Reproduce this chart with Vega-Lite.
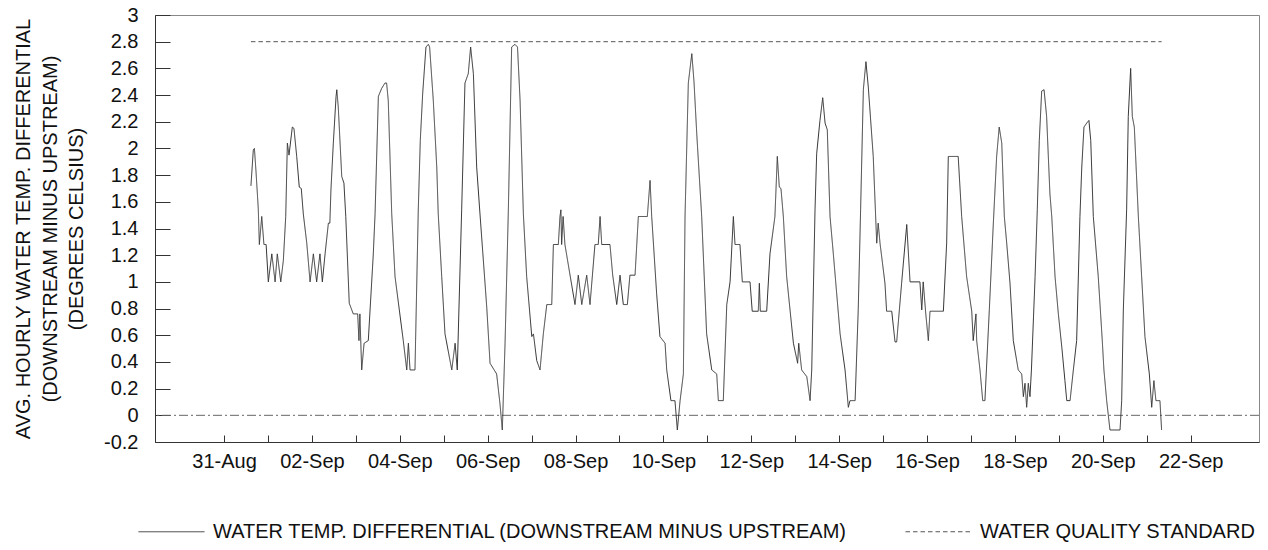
{
  "$schema": "https://vega.github.io/schema/vega-lite/v6.json",
  "width": 1104,
  "height": 427,
  "autosize": {"type": "none"},
  "padding": {"left": 155, "top": 15, "right": 9, "bottom": 108},
  "background": "white",
  "config": {
    "font": "Liberation Sans",
    "view": {"stroke": "#888", "strokeWidth": 1},
    "axis": {"grid": false, "domainColor": "#333", "tickColor": "#333", "labelColor": "#111", "titleColor": "#111", "labelFont": "Liberation Sans", "titleFont": "Liberation Sans", "titleFontWeight": "normal"}
  },
  "datasets": {
    "std": [{"h": 14.7, "v": 2.8}, {"h": 512.1, "v": 2.8}],
    "diff": [
      {"h":14.7,"v":1.72},{"h":16.0,"v":1.99},{"h":16.6,"v":2.0},{"h":17.5,"v":1.82},{"h":18.7,"v":1.55},{"h":19.3,"v":1.28},{"h":20.6,"v":1.49},{"h":21.8,"v":1.28},{"h":23.0,"v":1.28},{"h":24.2,"v":1.0},{"h":26.1,"v":1.21},{"h":27.9,"v":1.0},{"h":29.1,"v":1.21},{"h":31.0,"v":1.0},{"h":32.4,"v":1.16},{"h":33.7,"v":1.49},{"h":34.6,"v":2.04},{"h":35.5,"v":1.95},{"h":37.3,"v":2.16},{"h":38.2,"v":2.15},{"h":39.7,"v":1.94},{"h":41.1,"v":1.71},{"h":42.2,"v":1.7},{"h":43.3,"v":1.51},{"h":45.2,"v":1.29},{"h":47.0,"v":1.0},{"h":48.8,"v":1.21},{"h":50.6,"v":1.0},{"h":52.4,"v":1.21},{"h":53.7,"v":1.0},{"h":55.2,"v":1.21},{"h":57.0,"v":1.44},{"h":57.8,"v":1.44},{"h":58.4,"v":1.69},{"h":59.7,"v":2.04},{"h":61.2,"v":2.39},{"h":61.6,"v":2.44},{"h":62.4,"v":2.31},{"h":64.3,"v":1.79},{"h":65.5,"v":1.74},{"h":66.5,"v":1.49},{"h":68.4,"v":0.84},{"h":70.6,"v":0.76},{"h":73.0,"v":0.76},{"h":73.7,"v":0.56},{"h":74.2,"v":0.76},{"h":75.2,"v":0.34},{"h":76.5,"v":0.54},{"h":78.8,"v":0.56},{"h":81.5,"v":1.2},{"h":82.5,"v":1.51},{"h":84.3,"v":2.39},{"h":86.1,"v":2.45},{"h":87.9,"v":2.49},{"h":88.8,"v":2.49},{"h":89.7,"v":2.36},{"h":91.6,"v":1.51},{"h":93.4,"v":1.04},{"h":97.9,"v":0.56},{"h":99.8,"v":0.34},{"h":100.7,"v":0.54},{"h":101.6,"v":0.34},{"h":104.3,"v":0.34},{"h":106.1,"v":1.54},{"h":107.2,"v":2.06},{"h":108.5,"v":2.41},{"h":110.3,"v":2.76},{"h":111.6,"v":2.78},{"h":112.3,"v":2.76},{"h":114.3,"v":2.36},{"h":116.2,"v":1.86},{"h":117.0,"v":1.51},{"h":118.9,"v":1.04},{"h":120.7,"v":0.61},{"h":124.4,"v":0.34},{"h":126.2,"v":0.54},{"h":127.4,"v":0.34},{"h":129.8,"v":1.54},{"h":131.6,"v":2.49},{"h":133.4,"v":2.56},{"h":134.7,"v":2.76},{"h":136.2,"v":2.56},{"h":138.0,"v":1.86},{"h":139.8,"v":1.51},{"h":143.5,"v":0.81},{"h":145.3,"v":0.39},{"h":148.9,"v":0.31},{"h":150.7,"v":0.09},{"h":152.0,"v":-0.11},{"h":153.5,"v":0.54},{"h":155.3,"v":1.54},{"h":157.1,"v":2.76},{"h":158.9,"v":2.78},{"h":160.3,"v":2.76},{"h":161.7,"v":2.36},{"h":163.5,"v":1.51},{"h":165.3,"v":1.04},{"h":168.1,"v":0.59},{"h":169.0,"v":0.61},{"h":170.8,"v":0.41},{"h":172.6,"v":0.34},{"h":174.4,"v":0.61},{"h":176.3,"v":0.83},{"h":179.0,"v":0.83},{"h":179.9,"v":1.28},{"h":182.6,"v":1.28},{"h":183.5,"v":1.49},{"h":184.0,"v":1.54},{"h":184.4,"v":1.28},{"h":185.2,"v":1.49},{"h":186.2,"v":1.28},{"h":189.0,"v":1.05},{"h":191.7,"v":0.83},{"h":193.5,"v":1.05},{"h":195.4,"v":0.83},{"h":198.1,"v":1.05},{"h":199.9,"v":0.83},{"h":202.6,"v":1.28},{"h":204.4,"v":1.28},{"h":205.4,"v":1.49},{"h":206.3,"v":1.28},{"h":210.8,"v":1.28},{"h":212.3,"v":1.05},{"h":214.5,"v":0.83},{"h":216.3,"v":1.05},{"h":218.1,"v":0.83},{"h":220.3,"v":0.83},{"h":221.7,"v":1.05},{"h":224.5,"v":1.05},{"h":226.3,"v":1.49},{"h":231.2,"v":1.49},{"h":232.7,"v":1.76},{"h":233.6,"v":1.49},{"h":236.3,"v":0.91},{"h":238.1,"v":0.59},{"h":240.9,"v":0.54},{"h":241.8,"v":0.34},{"h":244.1,"v":0.11},{"h":246.3,"v":0.11},{"h":247.6,"v":-0.11},{"h":249.1,"v":0.11},{"h":250.9,"v":0.31},{"h":251.8,"v":1.49},{"h":253.6,"v":2.49},{"h":255.5,"v":2.71},{"h":256.7,"v":2.5},{"h":258.2,"v":2.11},{"h":260.9,"v":1.49},{"h":263.6,"v":0.61},{"h":266.4,"v":0.34},{"h":269.1,"v":0.31},{"h":270.0,"v":0.11},{"h":272.7,"v":0.11},{"h":274.6,"v":0.83},{"h":276.4,"v":1.0},{"h":278.2,"v":1.49},{"h":279.1,"v":1.28},{"h":281.8,"v":1.28},{"h":283.1,"v":1.0},{"h":287.3,"v":1.0},{"h":288.5,"v":0.78},{"h":291.8,"v":0.78},{"h":292.4,"v":0.99},{"h":292.9,"v":0.78},{"h":296.4,"v":0.78},{"h":298.2,"v":1.21},{"h":300.9,"v":1.49},{"h":302.2,"v":1.94},{"h":303.3,"v":1.71},{"h":304.2,"v":1.7},{"h":305.5,"v":1.49},{"h":307.3,"v":1.04},{"h":311.0,"v":0.54},{"h":313.3,"v":0.39},{"h":313.9,"v":0.54},{"h":315.5,"v":0.34},{"h":318.3,"v":0.29},{"h":320.1,"v":0.11},{"h":321.0,"v":0.34},{"h":322.8,"v":1.54},{"h":323.7,"v":1.96},{"h":325.5,"v":2.21},{"h":327.0,"v":2.38},{"h":328.3,"v":2.19},{"h":329.5,"v":2.14},{"h":331.0,"v":1.49},{"h":332.8,"v":1.21},{"h":336.5,"v":0.61},{"h":339.2,"v":0.34},{"h":341.0,"v":0.06},{"h":341.9,"v":0.11},{"h":344.7,"v":0.11},{"h":346.4,"v":0.79},{"h":347.7,"v":1.54},{"h":349.2,"v":2.44},{"h":350.6,"v":2.65},{"h":351.9,"v":2.46},{"h":354.6,"v":1.94},{"h":356.5,"v":1.29},{"h":357.3,"v":1.44},{"h":358.3,"v":1.29},{"h":361.0,"v":0.99},{"h":361.9,"v":0.78},{"h":364.7,"v":0.78},{"h":366.5,"v":0.55},{"h":367.4,"v":0.55},{"h":370.1,"v":0.99},{"h":372.9,"v":1.43},{"h":374.7,"v":1.0},{"h":380.1,"v":1.0},{"h":381.1,"v":0.79},{"h":381.9,"v":1.0},{"h":383.3,"v":0.76},{"h":384.7,"v":0.56},{"h":385.6,"v":0.78},{"h":392.9,"v":0.78},{"h":394.7,"v":1.29},{"h":395.6,"v":1.94},{"h":401.0,"v":1.94},{"h":402.9,"v":1.49},{"h":405.6,"v":1.04},{"h":408.4,"v":0.78},{"h":409.2,"v":0.56},{"h":410.7,"v":0.76},{"h":411.1,"v":0.56},{"h":412.9,"v":0.34},{"h":414.4,"v":0.11},{"h":415.6,"v":0.11},{"h":418.0,"v":0.79},{"h":420.2,"v":1.44},{"h":422.0,"v":1.94},{"h":423.4,"v":2.16},{"h":424.8,"v":2.04},{"h":426.2,"v":1.49},{"h":427.5,"v":1.29},{"h":429.3,"v":0.99},{"h":431.1,"v":0.56},{"h":433.8,"v":0.34},{"h":435.7,"v":0.31},{"h":436.6,"v":0.14},{"h":437.5,"v":0.24},{"h":438.4,"v":0.06},{"h":439.3,"v":0.24},{"h":440.2,"v":0.14},{"h":441.0,"v":0.34},{"h":443.0,"v":1.04},{"h":444.2,"v":1.54},{"h":445.3,"v":2.06},{"h":446.6,"v":2.43},{"h":447.9,"v":2.44},{"h":449.3,"v":2.24},{"h":451.1,"v":1.66},{"h":452.1,"v":1.49},{"h":453.9,"v":1.04},{"h":455.7,"v":0.76},{"h":457.6,"v":0.51},{"h":459.3,"v":0.26},{"h":460.3,"v":0.11},{"h":462.1,"v":0.11},{"h":463.9,"v":0.34},{"h":465.7,"v":0.56},{"h":467.5,"v":1.49},{"h":468.5,"v":1.86},{"h":469.7,"v":2.16},{"h":471.2,"v":2.19},{"h":472.4,"v":2.21},{"h":473.4,"v":2.06},{"h":474.8,"v":1.49},{"h":477.5,"v":1.04},{"h":479.7,"v":0.56},{"h":480.6,"v":0.34},{"h":482.1,"v":0.11},{"h":483.9,"v":-0.11},{"h":489.4,"v":-0.11},{"h":490.3,"v":0.11},{"h":491.2,"v":0.79},{"h":493.0,"v":1.54},{"h":493.9,"v":2.24},{"h":495.2,"v":2.6},{"h":496.1,"v":2.24},{"h":497.2,"v":2.16},{"h":499.4,"v":1.49},{"h":501.2,"v":1.04},{"h":503.0,"v":0.59},{"h":505.4,"v":0.31},{"h":506.7,"v":0.06},{"h":507.9,"v":0.26},{"h":509.0,"v":0.11},{"h":511.2,"v":0.11},{"h":512.1,"v":-0.11}
    ]
  },
  "encoding": {
    "y": {
      "field": "v",
      "type": "quantitative",
      "scale": {"domain": [-0.2, 3], "nice": false, "zero": false},
      "title": ["AVG. HOURLY WATER TEMP. DIFFERENTIAL", "(DOWNSTREAM MINUS UPSTREAM)", "(DEGREES CELSIUS)"],
      "axis": {
        "values": [-0.2, 0, 0.2, 0.4, 0.6, 0.8, 1, 1.2, 1.4, 1.6, 1.8, 2, 2.2, 2.4, 2.6, 2.8, 3],
        "labelExpr": "'' + round(datum.value*10)/10",
        "tickSize": -15,
        "labelPadding": 32,
        "labelFontSize": 20,
        "labelOverlap": false,
        "labelBound": false,
        "labelFlush": false,
        "titleFontSize": 20,
        "titleLineHeight": 26.5,
        "titlePadding": 17
      }
    }
  },
  "layer": [
    {
      "data": {"values": [{"v": 0}]},
      "mark": {"type": "rule", "color": "#666", "strokeWidth": 1, "strokeDash": [9, 3, 2, 3]}
    },
    {
      "data": {"name": "std"},
      "mark": {"type": "line", "strokeWidth": 1},
      "encoding": {
        "x": {
          "field": "h", "type": "quantitative", "title": null,
          "scale": {"domain": [-37.7, 565.3], "nice": false, "zero": false},
          "axis": {
            "values": [0, 24, 48, 72, 96, 120, 144, 168, 192, 216, 240, 264, 288, 312, 336, 360, 384, 408, 432, 456, 480, 504, 528],
            "labelExpr": "datum.value % 48 == 0 ? utcFormat(utc(2000, 7, 31) + datum.value * 3600000, '%d-%b') : ''",
            "tickSize": -7,
            "labelPadding": 16,
            "labelFontSize": 20,
            "labelFlush": false,
            "labelOverlap": false,
            "labelBound": false
          }
        },
        "color": {
          "datum": "WATER QUALITY STANDARD", "type": "nominal",
          "scale": {"domain": ["WATER TEMP. DIFFERENTIAL (DOWNSTREAM MINUS UPSTREAM)", "WATER QUALITY STANDARD"], "range": ["#333", "#555"]},
          "legend": {
            "orient": "none", "legendX": -17, "legendY": 483, "direction": "horizontal", "title": null,
            "symbolType": "stroke", "symbolSize": 4356, "symbolStrokeWidth": 1,
            "labelFontSize": 20, "labelFont": "Liberation Sans", "labelColor": "#111", "labelLimit": 2000,
            "labelOffset": 8, "columnPadding": 55
          }
        },
        "strokeDash": {
          "datum": "WATER QUALITY STANDARD", "type": "nominal",
          "scale": {"domain": ["WATER TEMP. DIFFERENTIAL (DOWNSTREAM MINUS UPSTREAM)", "WATER QUALITY STANDARD"], "range": [[1, 0], [4.5, 3]]},
          "legend": {
            "orient": "none", "legendX": -17, "legendY": 483, "direction": "horizontal", "title": null,
            "symbolType": "stroke", "symbolSize": 4356, "symbolStrokeWidth": 1,
            "labelFontSize": 20, "labelFont": "Liberation Sans", "labelColor": "#111", "labelLimit": 2000,
            "labelOffset": 8, "columnPadding": 55
          }
        }
      }
    },
    {
      "data": {"name": "diff"},
      "mark": {"type": "line", "strokeWidth": 1},
      "encoding": {
        "x": {
          "field": "h", "type": "quantitative", "title": null,
          "scale": {"domain": [-37.7, 565.3], "nice": false, "zero": false}
        },
        "color": {"datum": "WATER TEMP. DIFFERENTIAL (DOWNSTREAM MINUS UPSTREAM)", "type": "nominal"},
        "strokeDash": {"datum": "WATER TEMP. DIFFERENTIAL (DOWNSTREAM MINUS UPSTREAM)", "type": "nominal"}
      }
    }
  ]
}
